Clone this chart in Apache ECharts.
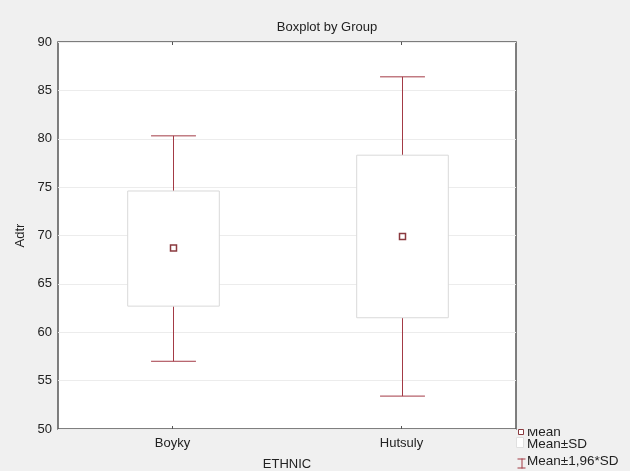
<!DOCTYPE html>
<html>
<head>
<meta charset="utf-8">
<script src="https://cdn.jsdelivr.net/npm/echarts@6/dist/echarts.min.js"></script>
<style>
  html, body { margin: 0; padding: 0; background: #f0f0f0; overflow: hidden; }
  #chart { width: 630px; height: 471px; }
</style>
</head>
<body>
<div id="chart"></div>
<script>
// Group statistics for Adtr by ETHNIC
const categories = ['Boyky', 'Hutsuly'];
const means      = [68.7, 69.9];
const sdLow      = [62.7, 61.5];   // mean - SD
const sdHigh     = [74.6, 78.3];   // mean + SD
const ciLow      = [57.0, 53.4];   // mean - 1.96*SD
const ciHigh     = [80.3, 86.4];   // mean + 1.96*SD
const yTicks     = [50, 55, 60, 65, 70, 75, 80, 85, 90];

const WHISKER = '#a33a45';
const BOX_EDGE = '#d9d9d9';
const FONT = 'Liberation Sans, Arial, sans-serif';

const rows = categories.map((c, i) => [i, means[i], sdLow[i], sdHigh[i], ciLow[i], ciHigh[i]]);

function renderGlyph(params, api) {
  const idx = api.value(0);
  const band = api.size([1, 0])[0];
  const boxHalf = band * 0.2;
  const capHalf = band * 0.098;
  const pMean = api.coord([idx, api.value(1)]);
  const pSdL = api.coord([idx, api.value(2)]);
  const pSdH = api.coord([idx, api.value(3)]);
  const pCiL = api.coord([idx, api.value(4)]);
  const pCiH = api.coord([idx, api.value(5)]);
  const x = Math.round(pMean[0]) + 0.5;
  const lineStyle = { stroke: WHISKER, lineWidth: 1, fill: null };
  return {
    type: 'group',
    children: [
      { type: 'line', shape: { x1: x, y1: pCiH[1], x2: x, y2: pSdH[1] }, style: lineStyle },
      { type: 'line', shape: { x1: x, y1: pSdL[1], x2: x, y2: pCiL[1] }, style: lineStyle },
      { type: 'line', shape: { x1: x - capHalf, y1: pCiH[1], x2: x + capHalf, y2: pCiH[1] }, style: lineStyle },
      { type: 'line', shape: { x1: x - capHalf, y1: pCiL[1], x2: x + capHalf, y2: pCiL[1] }, style: lineStyle },
      { type: 'rect',
        shape: { x: x - boxHalf, y: pSdH[1], width: boxHalf * 2, height: pSdL[1] - pSdH[1] },
        style: { fill: '#ffffff', stroke: BOX_EDGE, lineWidth: 1 } },
      { type: 'rect',
        shape: { x: x - 3, y: pMean[1] - 3, width: 6, height: 6 },
        style: { fill: '#ffffff', stroke: '#8a3a3f', lineWidth: 1.5 } }
    ]
  };
}

const chart = echarts.init(document.getElementById('chart'), null, { renderer: 'canvas' });

chart.setOption({
  backgroundColor: '#f0f0f0',
  animation: false,
  title: {
    text: 'Boxplot by Group',
    left: 322, top: 16, textAlign: 'center',
    textStyle: { fontFamily: FONT, fontSize: 13, fontWeight: 'normal', color: '#222' }
  },
  grid: {
    left: 58, right: 114, top: 42, bottom: 42,
    outerBoundsMode: 'none',
    show: true, backgroundColor: '#ffffff', borderColor: '#555555', borderWidth: 1.5
  },
  xAxis: [
    {
      type: 'category', data: categories, position: 'bottom',
      name: 'ETHNIC', nameLocation: 'middle', nameGap: 29,
      nameTextStyle: { fontFamily: FONT, fontSize: 13, color: '#222' },
      axisLine: { show: false },
      axisTick: { show: true, inside: true, alignWithLabel: true, length: 3, lineStyle: { color: '#555' } },
      axisLabel: { fontFamily: FONT, fontSize: 13, color: '#222', margin: 8 },
      splitLine: { show: false }
    },
    {
      type: 'category', data: categories, position: 'top',
      axisLine: { show: false },
      axisTick: { show: true, inside: true, alignWithLabel: true, length: 3, lineStyle: { color: '#555' } },
      axisLabel: { show: false },
      splitLine: { show: false }
    }
  ],
  yAxis: {
    type: 'value', min: yTicks[0], max: yTicks[yTicks.length - 1], interval: 5,
    name: 'Adtr', nameLocation: 'middle', nameGap: 24,
    nameTextStyle: { fontFamily: FONT, fontSize: 13, color: '#222' },
    axisLine: { show: false },
    axisTick: { show: false },
    axisLabel: { fontFamily: FONT, fontSize: 13, color: '#222', margin: 6 },
    splitLine: { show: true, lineStyle: { color: '#ececec', width: 1 } }
  },
  series: [{
    type: 'custom',
    name: 'Adtr',
    renderItem: renderGlyph,
    encode: { x: 0, y: [1, 2, 3, 4, 5] },
    data: rows,
    z: 3
  }],
  graphic: [
    // legend: mean marker
    { type: 'rect', left: 518, top: 429, shape: { width: 5, height: 5 },
      style: { fill: '#fff', stroke: '#8a3a3f', lineWidth: 1 }, z: 10 },
    { type: 'text', left: 527, top: 425, style: { text: 'Mean', font: '13.5px ' + FONT, fill: '#222' }, z: 10 },
    // legend: SD box
    { type: 'rect', left: 516, top: 437, shape: { width: 7, height: 10 },
      style: { fill: '#fff', stroke: '#e0e0e0', lineWidth: 1 }, z: 10 },
    { type: 'text', left: 527, top: 437, style: { text: 'Mean±SD', font: '13.5px ' + FONT, fill: '#222' }, z: 10 },
    // legend: 1.96*SD whisker
    { type: 'group', left: 515, top: 456, z: 10, children: [
      { type: 'line', shape: { x1: 0, y1: 0.5, x2: 8, y2: 0.5 }, style: { stroke: WHISKER, lineWidth: 1 } },
      { type: 'line', shape: { x1: 4.5, y1: 0, x2: 4.5, y2: 10 }, style: { stroke: WHISKER, lineWidth: 1 } },
      { type: 'line', shape: { x1: 0, y1: 9.5, x2: 8, y2: 9.5 }, style: { stroke: WHISKER, lineWidth: 1 } }
    ] },
    { type: 'text', left: 527, top: 454, style: { text: 'Mean±1,96*SD', font: '13.5px ' + FONT, fill: '#222' }, z: 10 },
    // panel edge that trims the top of the legend block
    { type: 'rect', left: 517, top: 418, shape: { width: 113, height: 11 },
      style: { fill: '#f0f0f0' }, z: 11 }
  ]
});
</script>
</body>
</html>
